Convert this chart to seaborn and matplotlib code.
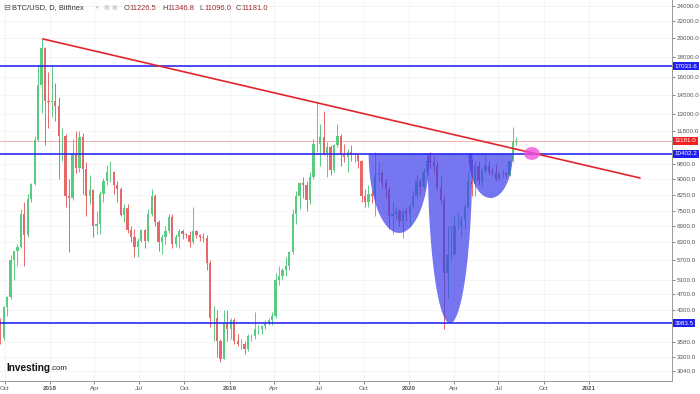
import numpy as np
import pandas as pd
import matplotlib
matplotlib.use("Agg")
import matplotlib.pyplot as plt
import matplotlib.dates as mdates
from matplotlib.transforms import blended_transform_factory
import seaborn as sns

# ---------------- data (weekly candles, BTC/USD Bitfinex) ----------------
first_week = "2017-09-18"
first_open = 3700

close_2017 = [3660, 4380, 4610, 5700, 5980, 6140, 7400, 6570, 8040, 8750, 11250, 15300, 18950, 14000, 13900]
high_2017 = [4100, 4400, 4650, 5850, 6000, 6250, 7600, 7900, 8300, 8800, 11500, 17200, 19900, 19000, 16500]
low_2017 = [3550, 3630, 4150, 4560, 5100, 5500, 6100, 5500, 6500, 7900, 8700, 11200, 13100, 10900, 12000]

close_2018 = [14000, 13600, 11500, 11500, 8200, 8100, 10400, 9600, 11450, 9550, 8200, 8450, 6900, 7000,
              8300, 8900, 9350, 9400, 8700, 8500, 7350, 7650, 6750, 6500, 6150, 6350, 6750, 6350, 7400,
              8200, 7050, 6300, 6500, 6700, 7250, 6250, 6500, 6700, 6600, 6550, 6300, 6700, 6550, 6500,
              6450, 5600, 4100, 4100, 3600, 3250, 4000, 3850, 4050]
high_2018 = [17200, 15500, 14300, 12000, 11600, 9000, 11300, 11800, 11800, 11700, 9900, 9200, 8500, 7500,
             8400, 9050, 9750, 9950, 9450, 8900, 8600, 7800, 7800, 6900, 6800, 6450, 6800, 6800, 7600,
             8500, 8300, 7150, 6600, 6900, 7400, 7400, 6600, 6800, 6800, 6650, 6700, 7700, 6750, 6600,
             6650, 6550, 5700, 4400, 4300, 3650, 4300, 4300, 4100]
low_2018 = [12800, 12500, 9000, 10000, 7700, 5950, 8000, 9300, 9400, 8300, 7300, 7800, 6500, 6600,
            6600, 7900, 8700, 8850, 8300, 7900, 7300, 7050, 6650, 6300, 5800, 5800, 6300, 6100, 6300,
            7300, 6900, 6000, 5900, 6250, 6650, 6100, 6150, 6100, 6400, 6450, 6150, 6250, 6450, 6350,
            6300, 5400, 3900, 3600, 3300, 3200, 3250, 3600, 3650]

close_2019 = [3600, 3550, 3550, 3450, 3700, 3700, 3850, 3850, 3930, 4000, 4050, 4150, 5100, 5200,
              5400, 5500, 5950, 7400, 8200, 8800, 8700, 8000, 9100, 11000, 11000, 11400, 10400, 10800,
              9500, 10900, 11500, 10300, 10200, 10500, 10300, 10300, 10000, 8200, 7900, 8300, 8200,
              9200, 9300, 8800, 8500, 7300, 7400, 7500, 7100, 7500, 7400, 7750]
high_2019 = [4100, 3750, 3650, 3600, 3750, 3750, 4250, 3950, 3950, 4050, 4100, 4250, 5300, 5500,
             5450, 5800, 6000, 7600, 8400, 8850, 9100, 8900, 9400, 11300, 13900, 12300, 13200, 11100,
             10900, 11000, 12300, 11600, 11000, 10700, 10950, 10450, 10350, 10050, 8500, 8700, 8450,
             10500, 9900, 9500, 9000, 8600, 7900, 7700, 7600, 7600, 7650, 7800]
low_2019 = [3550, 3500, 3450, 3350, 3400, 3600, 3650, 3750, 3750, 3850, 3950, 3950, 4100, 4950,
            5100, 5200, 5400, 5900, 7000, 7600, 8100, 7500, 7800, 9000, 10500, 9700, 10300, 9100,
            9200, 9400, 10800, 9700, 9900, 9400, 10000, 9900, 9600, 7900, 7700, 7700, 7850,
            7300, 8900, 8600, 8100, 6800, 6600, 7200, 6900, 6450, 7100, 6850]

close_2020 = [8200, 8900, 8600, 9400, 10000, 9900, 9700, 8550, 8000, 5300, 5850, 5900, 6900, 6900,
              7150, 7700, 8900, 8750, 9700, 8900, 9450, 9700, 9400, 9300, 9000, 9300, 9300, 9200,
              9950, 11100, 11181]
high_2020 = [8450, 9200, 9000, 9600, 10200, 10500, 10250, 9950, 9200, 8200, 6900, 6900, 7300, 7450,
             7300, 7800, 9450, 10100, 9950, 9950, 9600, 10400, 10000, 9600, 9800, 9350, 9500, 9350,
             10000, 12100, 11450]
low_2020 = [7650, 8100, 8250, 8550, 9150, 9600, 9300, 8450, 7850, 3850, 4600, 5700, 5850, 6800,
            6500, 6800, 7650, 8200, 8200, 8700, 8650, 9300, 9200, 9200, 8900, 8950, 9100, 9050,
            9150, 9900, 10950]

# drawn levels / annotations
level_values = [17033.6, 10402.2, 3983.5]
last_price = 11181.0
trend_dates = ["2017-12-17", "2021-04-15"]
trend_values = [19900, 9060]
cup_start = ["2019-10-11", "2020-02-08", "2020-05-01"]
cup_end = ["2020-02-12", "2020-05-09", "2020-07-30"]
cup_bottom = [6640, 3983.5, 8090]
cup_top = 10402.2
mark_date = "2020-09-07"
mark_days = 16
mark_low, mark_high = 10040, 10790

y_ticks = [3040, 3300, 3580, 4300, 4700, 5100, 5700, 6300, 6900, 7500, 8250, 9000, 9800,
           11800, 13000, 14500, 16000, 18000, 20000, 22000, 24000]
x_tick_dates = ["2017-10-01", "2018-01-01", "2018-04-01", "2018-07-01", "2018-10-01", "2019-01-01",
                "2019-04-01", "2019-07-01", "2019-10-01", "2020-01-01", "2020-04-01", "2020-07-01",
                "2020-10-01", "2021-01-01"]
x_tick_labels = ["Oct", "2018", "Apr", "Jul", "Oct", "2019", "Apr", "Jul", "Oct", "2020", "Apr",
                 "Jul", "Oct", "2021"]

# ---------------- build frame ----------------
close = np.array(close_2017 + close_2018 + close_2019 + close_2020, float)
high = np.array(high_2017 + high_2018 + high_2019 + high_2020, float)
low = np.array(low_2017 + low_2018 + low_2019 + low_2020, float)
opens = np.concatenate([[first_open], close[:-1]])
weeks = pd.date_range(first_week, periods=len(close), freq="7D") + pd.Timedelta(days=3.5)
df = pd.DataFrame({"date": weeks, "open": opens, "high": high, "low": low, "close": close})
df["up"] = df["close"] >= df["open"]

sns.set_theme(style="white")
plt.rcParams["font.family"] = ["Liberation Sans", "DejaVu Sans"]

fig = plt.figure(figsize=(7, 3.94), dpi=100)
ax = fig.add_axes([0, 13 / 394, 672 / 700, 381 / 394])
ax.set_yscale("log")

GREEN, RED = "#5ccb82", "#e76868"
cols = np.where(df["up"], GREEN, RED)
xd = mdates.date2num(df["date"])
ax.vlines(xd, df["low"], df["high"], colors=cols, lw=0.7, zorder=2)
body_lo = np.minimum(df["open"], df["close"])
body_h = np.abs(df["close"] - df["open"])
ax.bar(xd, body_h, bottom=body_lo, width=4.6, color=cols, linewidth=0, zorder=2)

# cups
for s, e, b in zip(cup_start, cup_end, cup_bottom):
    x0, x1 = mdates.date2num(pd.Timestamp(s)), mdates.date2num(pd.Timestamp(e))
    t = np.linspace(0, np.pi, 80)
    xs = (x0 + x1) / 2 + (x1 - x0) / 2 * np.cos(t)
    ly = np.log(cup_top) - (np.log(cup_top) - np.log(b)) * np.sin(t)
    ax.fill(xs, np.exp(ly), color="#3c3cec", alpha=0.7, lw=0, zorder=3)

# levels
for v in level_values:
    ax.axhline(v, color="#2b2bf0", lw=1.2, zorder=4)
ax.axhline(last_price, color="#f2a5a5", lw=0.6, zorder=1)

# trend line
tdf = pd.DataFrame({"date": pd.to_datetime(trend_dates), "value": trend_values})
sns.lineplot(data=tdf, x="date", y="value", ax=ax, color="#e0262b", lw=1.2, zorder=5)

# pink mark
mc = mdates.date2num(pd.Timestamp(mark_date))
t = np.linspace(0, 2 * np.pi, 100)
lm = (np.log(mark_high) + np.log(mark_low)) / 2
lr = (np.log(mark_high) - np.log(mark_low)) / 2
ax.fill(mc + mark_days * np.cos(t), np.exp(lm + lr * np.sin(t)), color="#f04fe0", alpha=0.8, lw=0, zorder=6)

# axes styling
ax.set_xlim(mdates.date2num(pd.Timestamp("2017-09-21")), mdates.date2num(pd.Timestamp("2021-06-19")))
ax.set_ylim(2874, 24800)
ax.yaxis.tick_right()
ax.set_yticks(y_ticks)
ax.set_yticklabels([f"{v:.1f}" for v in y_ticks])
ax.yaxis.set_minor_locator(matplotlib.ticker.NullLocator())
ax.set_xticks(mdates.date2num(pd.to_datetime(x_tick_dates)))
ax.set_xticklabels(x_tick_labels)
for lab in ax.get_xticklabels():
    if lab.get_text().isdigit():
        lab.set_fontweight("bold")
ax.tick_params(axis="y", which="both", labelsize=4.5, colors="#555555", length=2, width=0.5, pad=1.5,
               right=True, left=False)
ax.tick_params(axis="x", labelsize=4.5, colors="#555555", length=2, width=0.5, pad=1.5, bottom=True)
ax.grid(True, color="#f1f1f1", lw=0.5, zorder=0)
ax.set_axisbelow(True)
for sp in ["top", "left"]:
    ax.spines[sp].set_visible(False)
for sp in ["right", "bottom"]:
    ax.spines[sp].set_color("#999999")
    ax.spines[sp].set_linewidth(0.7)
ax.set_xlabel("")
ax.set_ylabel("")
if ax.get_legend():
    ax.get_legend().remove()

# right-side value boxes
tr = blended_transform_factory(ax.transAxes, ax.transData)
for v, c in [(17033.6, "#1f1ff0"), (last_price, "#f02020"), (10402.2, "#1f1ff0"), (3983.5, "#1f1ff0")]:
    ax.text(1.004, v, f"{v:.1f}", transform=tr, fontsize=4.5, color="white", va="center", ha="left",
            bbox=dict(boxstyle="square,pad=0.25", fc=c, ec="none"), zorder=10, clip_on=False)

# header
yh = 1 - 8 / 394
fig.text(3 / 700, yh, "⊟", fontsize=6, color="#666666", va="center", family=["DejaVu Sans"])
fig.text(12 / 700, yh, "BTC/USD, D, Bitfinex", fontsize=5.4, color="#333333", va="center")
fig.text(96 / 700, yh, "▾", fontsize=3.5, color="#aaaaaa", va="center", family=["DejaVu Sans"])
fig.text(104 / 700, yh, "▣ ▣", fontsize=4.5, color="#cccccc", va="center", family=["DejaVu Sans"])
hdr = [("O", "11226.5", 124), ("H", "11346.8", 162), ("L", "11096.0", 199), ("C", "11181.0", 236)]
for k, v, px in hdr:
    fig.text(px / 700, yh, k, fontsize=5.4, color="#444444", va="center")
    fig.text((px + 5) / 700, yh, v, fontsize=5.4, color="#9b2a2a", va="center")

# logo
fig.text(6 / 700, 1 - 368 / 394, "Investing", fontsize=7.2, fontweight="bold", color="#111111", va="center")
fig.text(50 / 700, 1 - 369 / 394, ".com", fontsize=5.6, color="#222222", va="center")

fig.savefig("out.png", dpi=100)
